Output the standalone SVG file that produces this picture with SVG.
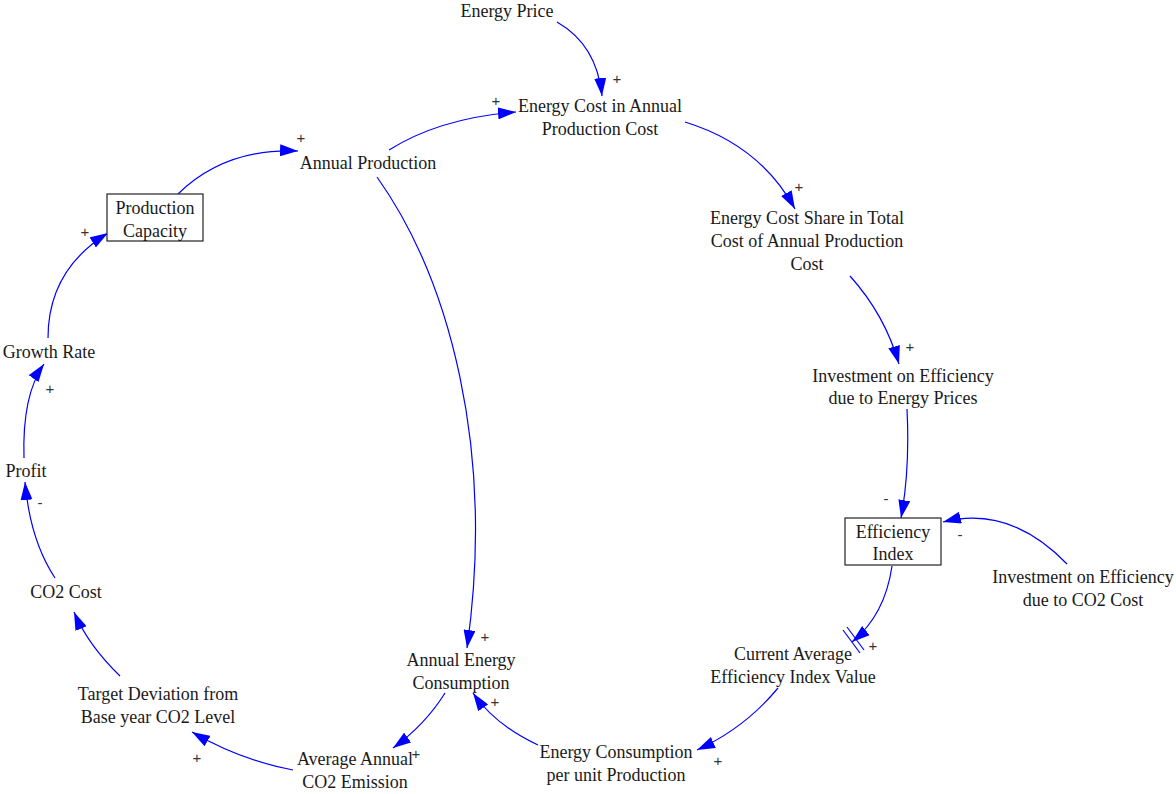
<svg xmlns="http://www.w3.org/2000/svg" width="1176" height="794" viewBox="0 0 1176 794">
<style>
text{font-family:"Liberation Serif","Times New Roman",serif;font-size:18px;fill:#1a1a1a;text-anchor:middle}
.s{font-family:"Liberation Sans",Arial,sans-serif;font-size:15px;fill:#333333}
.c{fill:none;stroke:#0000ff;stroke-width:1.2}
.box{fill:#fff;stroke:#222;stroke-width:1.2}
.h{stroke:#0000ff;stroke-width:1.2}
</style>
<defs>
<marker id="a" viewBox="0 0 18 12" refX="18" refY="6" markerWidth="18" markerHeight="12" markerUnits="userSpaceOnUse" orient="auto">
<path d="M0,0 L18,6 L0,12 z" fill="#0000ff"/>
</marker>
</defs>
<rect width="1176" height="794" fill="#fff"/>
<g id="connectors">
<path class="c" marker-end="url(#a)" d="M557,22 Q597,45 602,96"/>
<path class="c" marker-end="url(#a)" d="M389,150 Q440,118 516,112"/>
<path class="c" marker-end="url(#a)" d="M178,194 Q225,148 298,151"/>
<path class="c" marker-end="url(#a)" d="M48,338 Q48,270 108,233"/>
<path class="c" marker-end="url(#a)" d="M24,458 Q22,395 44,364"/>
<path class="c" marker-end="url(#a)" d="M55,578 Q30,540 25,482"/>
<path class="c" marker-end="url(#a)" d="M120,676 Q88,645 74,612"/>
<path class="c" marker-end="url(#a)" d="M293,770 Q240,760 192,732"/>
<path class="c" marker-end="url(#a)" d="M445,693 Q425,725 393,748"/>
<path class="c" marker-end="url(#a)" d="M538,745 Q495,725 473,693"/>
<path class="c" marker-end="url(#a)" d="M778,688 Q745,728 697,750"/>
<path class="c" marker-end="url(#a)" d="M892,566 Q885,615 852,642"/>
<line class="h" x1="843" y1="630" x2="860" y2="653"/>
<line class="h" x1="847" y1="627" x2="864" y2="650"/>
<path class="c" marker-end="url(#a)" d="M907,409 Q910,470 901,518"/>
<path class="c" marker-end="url(#a)" d="M1067,564 Q1010,505 943,522"/>
<path class="c" marker-end="url(#a)" d="M850,276 Q885,315 899,364"/>
<path class="c" marker-end="url(#a)" d="M685,122 Q760,145 795,209"/>
<path class="c" marker-end="url(#a)" d="M377,177 C450,280 495,450 467,648"/>
<text class="s" x="617" y="84">+</text>
<text class="s" x="496" y="106">+</text>
<text class="s" x="301" y="143">+</text>
<text class="s" x="85" y="237">+</text>
<text class="s" x="50" y="394">+</text>
<text class="s" x="40" y="508">-</text>
<text class="s" x="197" y="763">+</text>
<text class="s" x="416" y="759">+</text>
<text class="s" x="495" y="707">+</text>
<text class="s" x="485" y="642">+</text>
<text class="s" x="718" y="766">+</text>
<text class="s" x="873" y="651">+</text>
<text class="s" x="886" y="504">-</text>
<text class="s" x="960" y="540">-</text>
<text class="s" x="910" y="352">+</text>
<text class="s" x="799" y="192">+</text>
</g>
<g id="energy-price"><text x="507" y="17">Energy Price</text></g>
<g id="energy-cost"><text x="600" y="112">Energy Cost in Annual</text><text x="600" y="135">Production Cost</text></g>
<g id="annual-production"><text x="368" y="169">Annual Production</text></g>
<g id="production-capacity"><rect class="box" x="107" y="194" width="96" height="47"/><text x="155" y="214">Production</text><text x="155" y="237">Capacity</text></g>
<g id="growth-rate"><text x="49" y="358">Growth Rate</text></g>
<g id="profit"><text x="26" y="477">Profit</text></g>
<g id="co2-cost"><text x="66" y="598">CO2 Cost</text></g>
<g id="target-deviation"><text x="158" y="700">Target Deviation from</text><text x="158" y="723">Base year CO2 Level</text></g>
<g id="average-annual"><text x="355" y="765">Average Annual</text><text x="355" y="788">CO2 Emission</text></g>
<g id="annual-energy"><text x="461" y="666">Annual Energy</text><text x="461" y="689">Consumption</text></g>
<g id="energy-per-unit"><text x="616" y="758">Energy Consumption</text><text x="616" y="781">per unit Production</text></g>
<g id="current-average"><text x="793" y="660">Current Average</text><text x="793" y="683">Efficiency Index Value</text></g>
<g id="efficiency-index"><rect class="box" x="845" y="518" width="96" height="47"/><text x="893" y="538">Efficiency</text><text x="893" y="560">Index</text></g>
<g id="investment-co2"><text x="1083" y="583">Investment on Efficiency</text><text x="1083" y="606">due to CO2 Cost</text></g>
<g id="investment-energy"><text x="903" y="382">Investment on Efficiency</text><text x="903" y="404">due to Energy Prices</text></g>
<g id="energy-cost-share"><text x="807" y="224">Energy Cost Share in Total</text><text x="807" y="247">Cost of Annual Production</text><text x="807" y="270">Cost</text></g>
</svg>
